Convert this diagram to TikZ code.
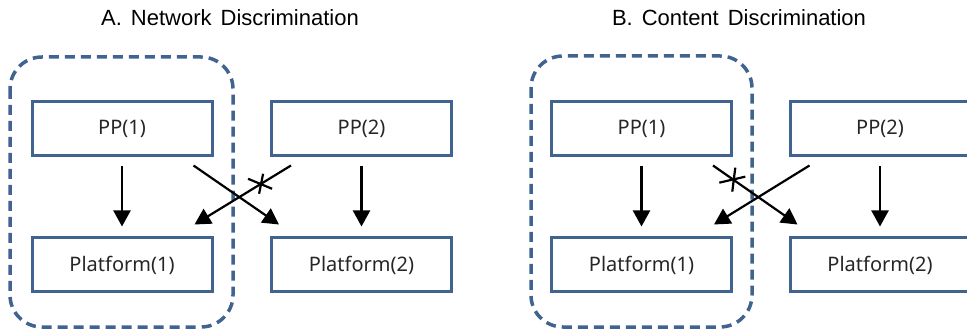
\documentclass[tikz,border=0pt]{standalone}
\usepackage{fontspec}
\setmainfont{Liberation Sans}
\newfontfamily\boxfont{Noto Sans}
\usetikzlibrary{calc,arrows.meta}
\definecolor{boxblue}{HTML}{41638F}
\tikzset{
  box/.style={draw=boxblue, line width=3pt, minimum width=180pt, minimum height=54pt, inner sep=0pt, font=\boxfont\fontsize{20}{24}\selectfont, text=black!85},
  title/.style={font=\fontsize{22}{26}\selectfont},
  arr/.style={line width=2.2pt, -{Triangle[length=16pt,width=17pt]}},
  xmark/.style={line width=2.2pt},
  group/.style={draw=boxblue, line width=3.5pt, dash pattern=on 10pt off 6pt, rounded corners=32pt}
}
\begin{document}
\begin{tikzpicture}[x=1pt,y=-1pt]
\useasboundingbox (0,0) rectangle (967,331);
\clip (0,0) rectangle (967,331);
% titles
\node[title] (ta) at (230,18) {A.\hspace{9pt}Network\hspace{9pt}Discrimination};
\node[title] (tb) at (739,18) {B.\hspace{9pt}Content\hspace{9pt}Discrimination};
% panel A
\draw[group] (10,57) rectangle (233,327);
\node[box] (a1) at (122,129) {PP(1)};
\node[box] (a2) at (361.5,129) {PP(2)};
\node[box] (ap1) at (122,265) {Platform(1)};
\node[box] (ap2) at (361.5,265) {Platform(2)};
\draw[arr, shorten <=9pt, shorten >=10pt] (a1) -- (ap1);
\draw[arr, shorten <=9pt, shorten >=10pt] (a2) -- (ap2);
\coordinate (as1) at ($(a1.south east)+(-20,8)$);
\coordinate (ae1) at ($(ap2.north west)+(9,-12)$);
\coordinate (as2) at ($(a2.south west)+(21,8)$);
\coordinate (ae2) at ($(ap1.north east)+(-19,-12)$);
\draw[arr] (as1) -- (ae1);
\draw[arr] (as2) -- (ae2);
\path (as2) -- (ae2) coordinate[pos=0.31] (am);
\draw[xmark] ($(am)+(2,-10)$) -- ($(am)+(-2,10)$);
\draw[xmark] ($(am)+(-13,-5)$) -- ($(am)+(11,5)$);
% panel B
\draw[group] (531,56) rectangle (752,327);
\node[box] (b1) at (641.5,129) {PP(1)};
\node[box] (b2) at (880,129) {PP(2)};
\node[box] (bp1) at (641.5,265) {Platform(1)};
\node[box] (bp2) at (880,265) {Platform(2)};
\draw[arr, shorten <=9pt, shorten >=10pt] (b1) -- (bp1);
\draw[arr, shorten <=9pt, shorten >=10pt] (b2) -- (bp2);
\coordinate (bs1) at ($(b1.south east)+(-20,8)$);
\coordinate (be1) at ($(bp2.north west)+(9,-12)$);
\coordinate (bs2) at ($(b2.south west)+(21,8)$);
\coordinate (be2) at ($(bp1.north east)+(-19,-12)$);
\draw[arr] (bs1) -- (be1);
\draw[arr] (bs2) -- (be2);
\path (bs1) -- (be1) coordinate[pos=0.24] (bm);
\draw[xmark] ($(bm)+(2,-12)$) -- ($(bm)+(-1,12)$);
\draw[xmark] ($(bm)+(-14,3)$) -- ($(bm)+(12,-3)$);
\end{tikzpicture}
\end{document}
